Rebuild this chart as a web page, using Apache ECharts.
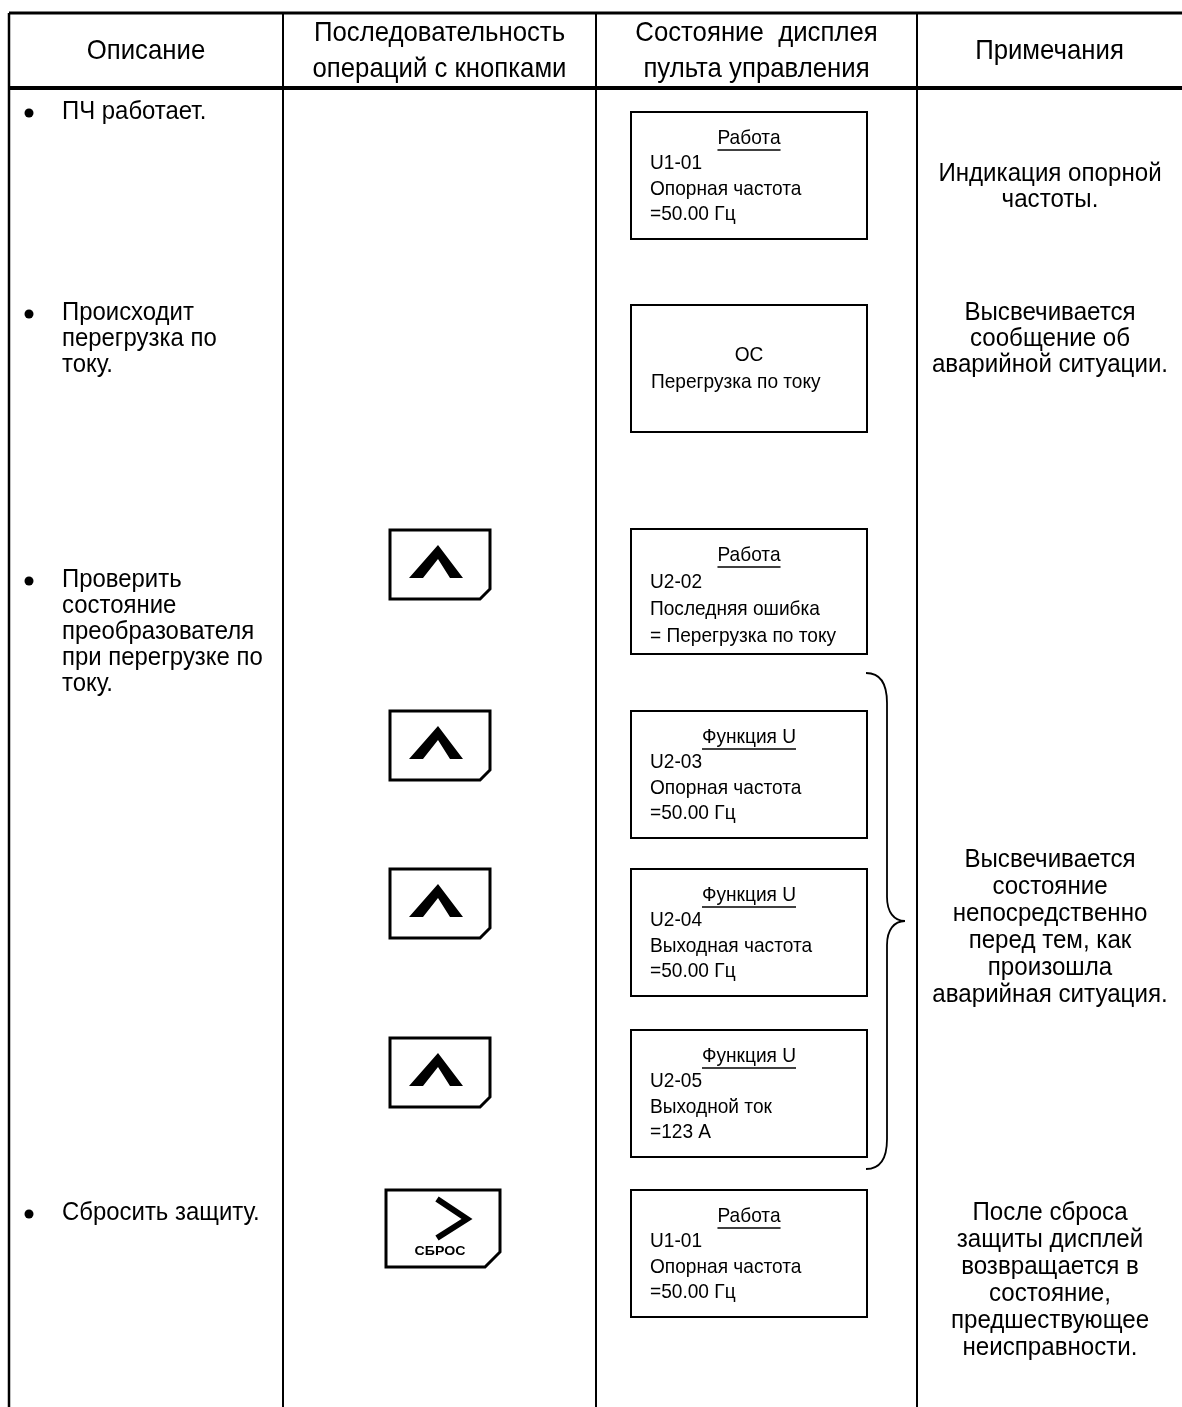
<!DOCTYPE html>
<html><head><meta charset="utf-8">
<script src="https://cdn.jsdelivr.net/npm/echarts@6/dist/echarts.min.js"></script>
<style>html,body{margin:0;padding:0;background:#fff}#c{width:1182px;height:1407px}</style>
</head><body><div id="c"></div>
<script>
// ---- content ----
var headers = [["Описание"], ["Последовательность", "операций с кнопками"], ["Состояние  дисплея", "пульта управления"], ["Примечания"]];
var descriptions = [["ПЧ работает."], ["Происходит", "перегрузка по", "току."], ["Проверить", "состояние", "преобразователя", "при перегрузке по", "току."], ["Сбросить защиту."]];
var displayTitles = ["Работа", "", "Работа", "Функция U", "Функция U", "Функция U", "Работа"];
var displayLines = [
  ["U1-01", "Опорная частота", "=50.00 Гц"],
  ["OC", "Перегрузка по току"],
  ["U2-02", "Последняя ошибка", "= Перегрузка по току"],
  ["U2-03", "Опорная частота", "=50.00 Гц"],
  ["U2-04", "Выходная частота", "=50.00 Гц"],
  ["U2-05", "Выходной ток", "=123 A"],
  ["U1-01", "Опорная частота", "=50.00 Гц"]
];
var buttons = ["up", "up", "up", "up", "reset"];
var resetLabel = "СБРОС";
var notes = [["Индикация опорной", "частоты."], ["Высвечивается", "сообщение об", "аварийной ситуации."], ["Высвечивается", "состояние", "непосредственно", "перед тем, как", "произошла", "аварийная ситуация."], ["После сброса", "защиты дисплей", "возвращается в", "состояние,", "предшествующее", "неисправности."]];

// ---- layout ----
var FONT = "Liberation Sans";
var SX = 0.91;
var colX = [9, 283, 596, 917, 1182];
var topY = 13, headY = 88, botY = 1407;
var descY = [112, 313, 580, 1213];
var noteY = [174, 313, 860, 1213];
var lineH = [26, 26, 26, 27];
var boxTop = [112, 305, 529, 711, 869, 1030, 1190];
var boxH = [127, 127, 125, 127, 127, 127, 127];
var boxGap = [25.5, 26, 27, 25.5, 25.5, 25.5, 25.5];
var boxX = 631, boxW = 236;
var btnTop = [530, 711, 869, 1038, 1190];

var ctx = document.createElement('canvas').getContext('2d');
function tw(t, size) { ctx.font = size + 'px "' + FONT + '"'; return ctx.measureText(t).width; }

var g = [];
function line(x1, y1, x2, y2, w) { g.push({type: 'line', shape: {x1: x1, y1: y1, x2: x2, y2: y2}, style: {stroke: '#000', lineWidth: w}}); }
function text(t, x, y, size, align, sx, bold) {
  g.push({type: 'text', x: x, y: y, scaleX: sx == null ? SX : sx, style: {text: t, x: 0, y: 0, fill: '#000', font: (bold ? 'bold ' : '') + size + 'px "' + FONT + '"', textAlign: align || 'left', textVerticalAlign: 'middle'}});
}
function curve(x1, y1, c1x, c1y, c2x, c2y, x2, y2) {
  g.push({type: 'bezierCurve', shape: {x1: x1, y1: y1, cpx1: c1x, cpy1: c1y, cpx2: c2x, cpy2: c2y, x2: x2, y2: y2}, style: {fill: null, stroke: '#000', lineWidth: 1.8}});
}
// table grid
line(colX[0], topY, colX[4], topY, 3);
line(colX[0], headY, colX[4], headY, 4);
for (var i = 0; i < 4; i++) line(colX[i], topY, colX[i], botY, i === 0 ? 2.5 : 2);
// headers
headers.forEach(function (h, i) {
  var cx = (colX[i] + colX[i + 1]) / 2;
  if (h.length === 1) text(h[0], cx, 51, 28, 'center', 0.92);
  else { text(h[0], cx, 33, 28, 'center', 0.92); text(h[1], cx, 69, 28, 'center', 0.92); }
});
// descriptions
descriptions.forEach(function (d, i) {
  g.push({type: 'circle', shape: {cx: 29, cy: descY[i] + 1, r: 4.5}, style: {fill: '#000'}});
  d.forEach(function (t, j) { text(t, 62, descY[i] + j * lineH[i], 26, 'left', 0.92); });
});
// notes
notes.forEach(function (n, i) {
  n.forEach(function (t, j) { text(t, 1050, noteY[i] + j * (i >= 2 ? 27 : 26), 26.5, 'center'); });
});
// displays
displayTitles.forEach(function (title, i) {
  var y0 = boxTop[i];
  g.push({type: 'rect', shape: {x: boxX, y: y0, width: boxW, height: boxH[i]}, style: {fill: '#fff', stroke: '#000', lineWidth: 2}});
  var cx = boxX + boxW / 2;
  if (title) {
    text(title, cx, y0 + 26, 21, 'center');
    var w = tw(title, 21) * SX;
    line(cx - w / 2, y0 + 38, cx + w / 2, y0 + 38, 1.5);
    displayLines[i].forEach(function (t, j) { text(t, 650, y0 + 26 + (j + 1) * boxGap[i], 21); });
  } else {
    text(displayLines[i][0], cx, y0 + 50, 21, 'center');
    text(displayLines[i][1], 651, y0 + 77, 21, 'left');
  }
});
// last line of display 3 is slightly cut by its frame
g.push({type: 'rect', shape: {x: boxX + 1, y: boxTop[2] + boxH[2] + 1, width: boxW - 2, height: 12}, style: {fill: '#fff'}});
line(boxX, boxTop[2] + boxH[2], boxX + boxW, boxTop[2] + boxH[2], 2);
// brace
curve(866, 673, 881, 673, 887, 684, 887, 703);
line(887, 703, 887, 897);
g[g.length - 1].style.lineWidth = 1.8;
curve(887, 897, 887, 912, 894, 921, 905, 921);
curve(905, 921, 894, 921, 887, 930, 887, 945);
line(887, 945, 887, 1139);
g[g.length - 1].style.lineWidth = 1.8;
curve(887, 1139, 887, 1158, 881, 1169, 866, 1169);
// buttons
buttons.forEach(function (b, i) {
  var y = btnTop[i];
  if (b === 'up') {
    var x = 390, w = 100, h = 69, c = 10;
    g.push({type: 'polygon', shape: {points: [[x, y], [x + w, y], [x + w, y + h - c], [x + w - c, y + h], [x, y + h]]}, style: {fill: '#fff', stroke: '#000', lineWidth: 3}});
    g.push({type: 'polygon', shape: {points: [[x + 48, y + 15], [x + 73, y + 48], [x + 60, y + 48], [x + 48, y + 29], [x + 33, y + 48], [x + 19, y + 48]]}, style: {fill: '#000'}});
  } else {
    var x2 = 386, w2 = 114, h2 = 77, c2 = 15;
    g.push({type: 'polygon', shape: {points: [[x2, y], [x2 + w2, y], [x2 + w2, y + h2 - c2], [x2 + w2 - c2, y + h2], [x2, y + h2]]}, style: {fill: '#fff', stroke: '#000', lineWidth: 3}});
    g.push({type: 'polyline', shape: {points: [[437, y + 9], [467, y + 29], [437, y + 48]]}, style: {stroke: '#000', lineWidth: 6, fill: null}});
    text(resetLabel, 440, y + 61, 13.5, 'center', 1.05, true);
  }
});

var chart = echarts.init(document.getElementById('c'), null, {renderer: 'canvas'});
chart.setOption({animation: false, backgroundColor: '#fff', graphic: {elements: g}});
</script></body></html>
